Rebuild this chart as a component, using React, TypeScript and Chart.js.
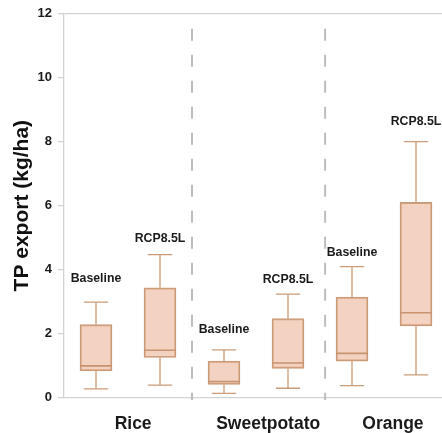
import React, { useEffect, useRef } from "react";
import { Chart, registerables } from "chart.js";

Chart.register(...registerables);

// Crops and scenarios
const crops = ["Rice", "Sweetpotato", "Orange"];
const scenarios = ["Baseline", "RCP8.5L"];

// Box statistics, ordered Rice-Baseline, Rice-RCP8.5L, Sweetpotato-Baseline, ...
const mins = [0.27, 0.39, 0.13, 0.29, 0.37, 0.71];
const q1s = [0.83, 1.25, 0.41, 0.91, 1.14, 2.24];
const medians = [0.99, 1.48, 0.5, 1.08, 1.38, 2.65];
const q3s = [2.28, 3.43, 1.14, 2.47, 3.14, 6.1];
const maxs = [2.98, 4.47, 1.49, 3.23, 4.09, 8.0];

// Heights (kg/ha) at which each scenario tag is written
const tagHeights = [3.73, 4.98, 2.11, 3.7, 4.54, 8.63];

// Position of crop names and group separators along the slot axis
const cropLabelSlots = [1.08, 3.19, 5.14];
const separatorSlots = [2.0, 4.08];

const yTicks = [0, 2, 4, 6, 8, 10, 12];

const FONT = "'Liberation Sans', Arial, Helvetica, sans-serif";
const BOX_FILL = "rgba(232, 168, 138, 0.52)";
const BOX_EDGE = "#c99b78";
const MEDIAN_EDGE = "#c8936e";
const AXIS_GRAY = "#d2d2d2";

const slotOf = (i: number) => i + 0.5;

export default function App() {
  const canvasRef = useRef<HTMLCanvasElement | null>(null);

  useEffect(() => {
    const canvas = canvasRef.current;
    if (!canvas) return;

    const boxes = q1s.map((q1, i) => ({ x: slotOf(i), y: [q1, q3s[i]] }));

    const whiskerPts: any[] = [];
    mins.forEach((mn, i) => {
      const x = slotOf(i);
      const cw = 0.19;
      whiskerPts.push({ x, y: mn }, { x, y: q1s[i] }, { x, y: null });
      whiskerPts.push({ x, y: q3s[i] }, { x, y: maxs[i] }, { x, y: null });
      whiskerPts.push({ x: x - cw, y: mn }, { x: x + cw, y: mn }, { x, y: null });
      whiskerPts.push({ x: x - cw, y: maxs[i] }, { x: x + cw, y: maxs[i] }, { x, y: null });
    });

    const medianPts: any[] = [];
    medians.forEach((m, i) => {
      const x = slotOf(i);
      medianPts.push({ x: x - 0.25, y: m }, { x: x + 0.25, y: m }, { x, y: null });
    });

    const separatorPts: any[] = [];
    separatorSlots.forEach((s) => {
      separatorPts.push({ x: s, y: 11.53 }, { x: s, y: -0.08 }, { x: s, y: null });
    });

    const tagPlugin = {
      id: "scenarioTags",
      afterDatasetsDraw(chart: any) {
        const { ctx, scales } = chart;
        ctx.save();
        ctx.font = `bold 12.3px ${FONT}`;
        ctx.fillStyle = "#1a1a1a";
        ctx.textAlign = "center";
        ctx.textBaseline = "middle";
        tagHeights.forEach((h, i) => {
          const label = scenarios[i % scenarios.length];
          ctx.fillText(label, scales.x.getPixelForValue(slotOf(i)), scales.y.getPixelForValue(h));
        });
        ctx.restore();
      },
    };

    const chart = new Chart(canvas, {
      type: "bar",
      data: {
        datasets: [
          {
            type: "line",
            label: "separators",
            data: separatorPts,
            borderColor: "#bdbdbd",
            borderWidth: 2,
            borderDash: [12, 14],
            pointRadius: 0,
            spanGaps: false,
            clip: false,
            order: 3,
          } as any,
          {
            type: "bar",
            label: "boxes",
            data: boxes as any,
            backgroundColor: BOX_FILL,
            borderColor: BOX_EDGE,
            borderWidth: 1.3,
            borderSkipped: false,
            barThickness: 32,
            grouped: false,
            order: 2,
          } as any,
          {
            type: "line",
            label: "whiskers",
            data: whiskerPts,
            borderColor: BOX_EDGE,
            borderWidth: 1.3,
            pointRadius: 0,
            spanGaps: false,
            order: 1,
          } as any,
          {
            type: "line",
            label: "medians",
            data: medianPts,
            borderColor: MEDIAN_EDGE,
            borderWidth: 1.6,
            pointRadius: 0,
            spanGaps: false,
            order: 0,
          } as any,
        ],
      },
      options: {
        animation: false,
        responsive: false,
        layout: { padding: { top: 13, right: 0, bottom: 0, left: 0 } },
        plugins: { legend: { display: false }, tooltip: { enabled: false } },
        scales: {
          x: {
            type: "linear",
            offset: false,
            min: 0,
            max: 6,
            afterBuildTicks: (scale: any) => {
              scale.ticks = cropLabelSlots.map((v) => ({ value: v }));
            },
            afterFit: (scale: any) => {
              scale.height = 35.5;
            },
            ticks: {
              autoSkip: false,
              maxRotation: 0,
              minRotation: 0,
              padding: 16,
              color: "#1a1a1a",
              font: { family: FONT, size: 17.5, weight: "bold" },
              callback: (_v: any, idx: number) => crops[idx],
            },
            grid: { display: false, drawTicks: false, offset: false },
            border: { display: true, color: AXIS_GRAY, width: 1.3 },
          },
          y: {
            type: "linear",
            min: 0,
            max: 12,
            afterBuildTicks: (scale: any) => {
              scale.ticks = yTicks.map((v) => ({ value: v }));
            },
            afterFit: (scale: any) => {
              scale.width = 64;
            },
            ticks: {
              padding: 6,
              minRotation: 0,
              maxRotation: 0,
              color: "#1a1a1a",
              font: { family: FONT, size: 13, weight: "bold" },
            },
            grid: {
              color: (c: any) => (c.tick && c.tick.value === 12 ? AXIS_GRAY : "rgba(0,0,0,0)"),
              tickColor: AXIS_GRAY,
              tickLength: 6,
              lineWidth: 1.3,
            },
            border: { display: true, color: AXIS_GRAY, width: 1.3 },
            title: {
              display: true,
              text: "TP export (kg/ha)",
              color: "#111",
              font: { family: FONT, size: 21, weight: "bold" },
              padding: { top: 9.4, bottom: 0 },
            },
          },
        },
      },
      plugins: [tagPlugin],
    });

    return () => chart.destroy();
  }, []);

  return (
    <div
      style={{
        position: "fixed",
        left: 0,
        top: 0,
        width: 442,
        height: 433,
        overflow: "hidden",
        background: "#fff",
      }}
    >
      <canvas ref={canvasRef} width={448} height={433} style={{ display: "block" }} />
    </div>
  );
}
